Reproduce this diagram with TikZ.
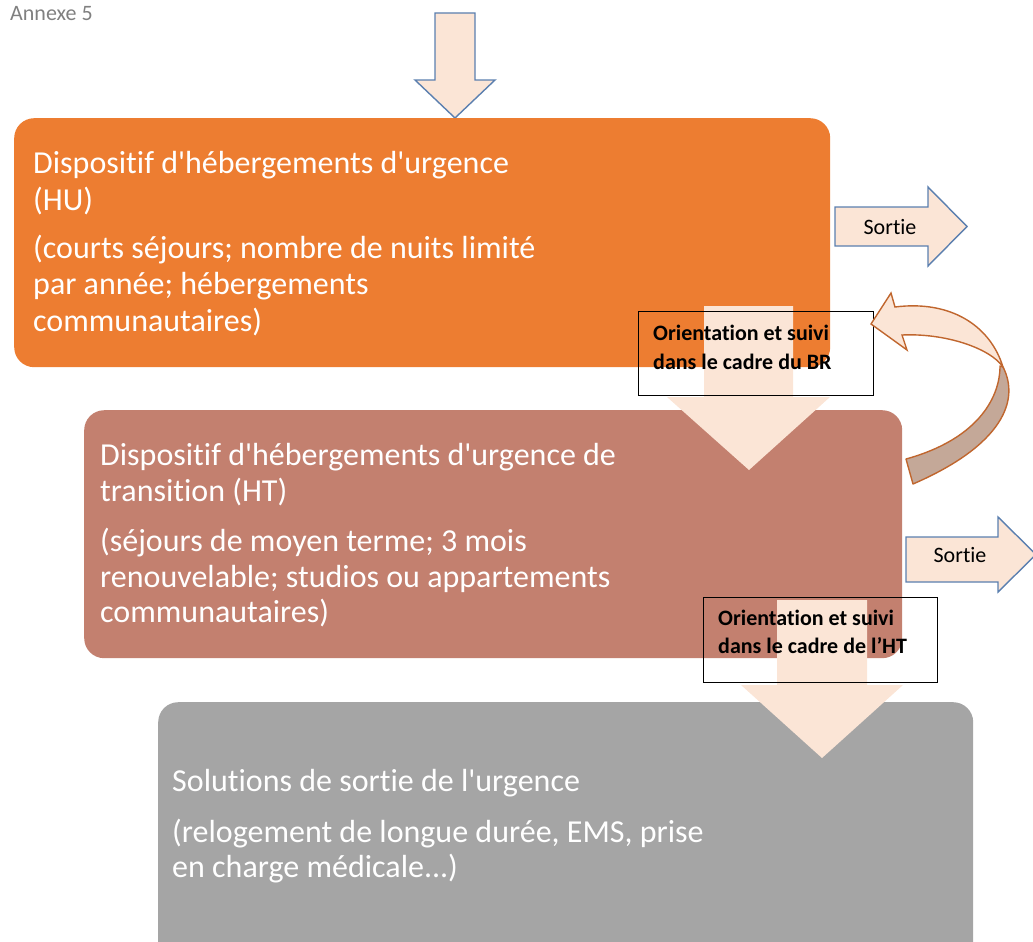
\documentclass[tikz,border=0pt]{standalone}
\usepackage{fontspec}
\setmainfont{Carlito}[Ligatures={TeXOff,NoCommon}]
\definecolor{huor}{HTML}{ED7D31}
\definecolor{htbr}{HTML}{C3806F}
\definecolor{sogr}{HTML}{A5A5A5}
\definecolor{peach}{HTML}{FBE5D6}
\definecolor{arblue}{HTML}{5B7FAF}
\definecolor{curvln}{HTML}{C0662E}
\definecolor{curvdk}{HTML}{C4A898}
\definecolor{anngr}{HTML}{808080}
\begin{document}
\begin{tikzpicture}[x=1pt,y=-1pt,
  panel/.style={rectangle, rounded corners=20pt, inner sep=0pt, anchor=north west},
  btxt/.style={anchor=base west, inner sep=0pt, text=white, font=\fontsize{32}{36}\selectfont},
  ltxt/.style={anchor=base west, inner sep=0pt, font=\bfseries\fontsize{22}{27}\selectfont},
  lblbox/.style={draw=black, line width=1.3pt, rectangle, inner sep=0pt, anchor=north west},
  blockarrow/.style={fill=peach, draw=arblue, line width=1.4pt, line join=miter},
  curvarrow/.style={draw=curvln, line width=1.4pt},
  stxt/.style={inner sep=0pt, font=\fontsize{22}{26}\selectfont}
]
\useasboundingbox (0,0) rectangle (1033,942);
\clip (0,0) rectangle (1033,942);

% annex label
\node[anchor=base west, inner sep=0pt, text=anngr, font=\fontsize{22}{26}\selectfont] (ann) at (10,21) {Annexe 5};

% entry arrow
\draw[blockarrow] (435,13) -- (475,13) -- (475,80) -- (495,80) -- (455,118) -- (415,80) -- (435,80) -- cycle;

% panels
\node[panel, fill=huor, minimum width=816pt, minimum height=249pt] (hu) at (14,118) {};
\node[panel, fill=htbr, minimum width=818pt, minimum height=248pt] (ht) at (84,410) {};
\node[panel, fill=sogr, minimum width=815pt, minimum height=270pt] (so) at (158,702) {};

% down arrows
\fill[peach] (704,306) -- (793,306) -- (793,397) -- (830,397) -- (749,470) -- (667,397) -- (704,397) -- cycle;
\fill[peach] (777,600) -- (867,600) -- (867,685) -- (903,685) -- (822,758) -- (741,685) -- (777,685) -- cycle;

% label boxes
\node[lblbox, minimum width=235pt, minimum height=84pt] (lbr) at (638,311) {};
\node[lblbox, minimum width=234pt, minimum height=85pt] (lht) at (703,597) {};
\node[ltxt] (lbr1) at (653,340) {Orientation et suivi};
\node[ltxt] (lbr2) at (653,369) {dans le cadre du BR};
\node[ltxt] (lht1) at (718,625) {Orientation et suivi};
\node[ltxt] (lht2) at (718,653) {dans le cadre de l’HT};

% exit arrows
\draw[blockarrow] (835,207) -- (928,207) -- (928,187) -- (967,226.5) -- (928,266) -- (928,246) -- (835,246) -- cycle;
\node[stxt] (s1) at (890,227) {Sortie};
\draw[blockarrow] (906,537) -- (998,537) -- (998,517) -- (1036,554.5) -- (998,592) -- (998,582) -- (906,582) -- cycle;
\node[stxt] (s2) at (960,555) {Sortie};

% curved return arrow
\filldraw[curvarrow, fill=curvdk, line join=round] (1003,367) .. controls (1020,400) and (1003,445) .. (913,484) -- (906,459) .. controls (975,440) and (1000,400) .. (1000,366) -- cycle;
\filldraw[curvarrow, fill=peach, line join=miter] (871,324) -- (891,293) -- (895,307) .. controls (950,300) and (990,325) .. (1003,367) .. controls (990,348) and (945,333) .. (902,335) -- (907,350) -- cycle;

% panel texts
\node[btxt] (hu1) at (33,173) {Dispositif d'hébergements d'urgence};
\node[btxt] (hu2) at (33,210) {(HU)};
\node[btxt] (hu3) at (33,258) {(courts séjours; nombre de nuits limité};
\node[btxt] (hu4) at (33,294) {par année; hébergements};
\node[btxt] (hu5) at (33,331) {communautaires)};

\node[btxt] (ht1) at (100,465) {Dispositif d'hébergements d'urgence de};
\node[btxt] (ht2) at (100,501) {transition (HT)};
\node[btxt] (ht3) at (100,551) {(séjours de moyen terme; 3 mois};
\node[btxt] (ht4) at (100,587) {renouvelable; studios ou appartements};
\node[btxt] (ht5) at (100,622) {communautaires)};

\node[btxt] (so1) at (172,791) {Solutions de sortie de l'urgence};
\node[btxt] (so2) at (172,842) {(relogement de longue durée, EMS, prise};
\node[btxt] (so3) at (172,877) {en charge médicale...)};
\end{tikzpicture}
\end{document}
